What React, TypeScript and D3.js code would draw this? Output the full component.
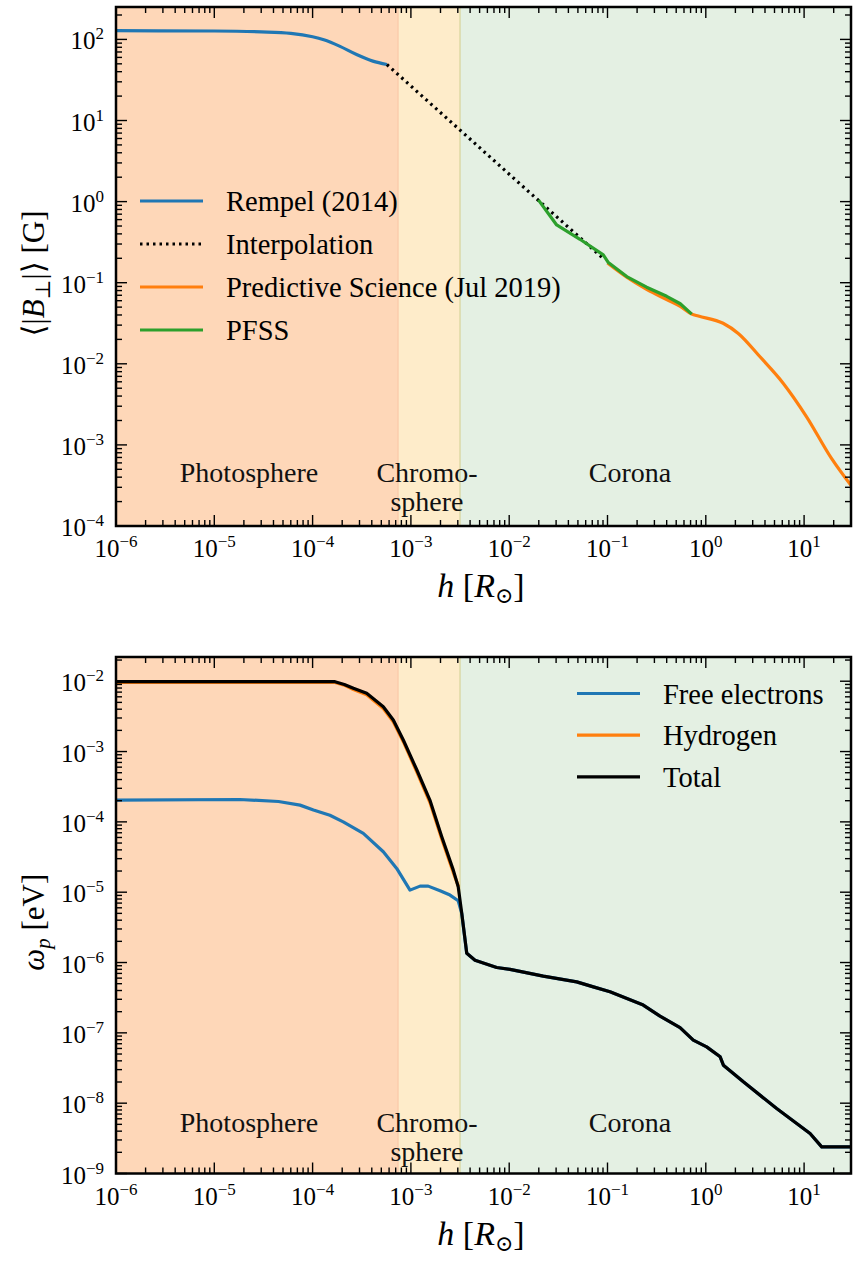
import React from 'react';
import * as d3 from 'd3';

// region boundaries in solar radii
const regionEdges = [1e-6, 7.4e-4, 3.16e-3, 30];
const regionFills = ['#fed7b8', '#feecca', '#e4f0e3'];

// top panel: <|B_perp|> [G]
const rempelH = [1e-6, 1e-5, 3e-5, 6e-5, 1e-4, 1.3e-4, 1.9e-4, 2.8e-4, 4.1e-4, 5.7e-4];
const rempelB = [128, 127, 124, 119, 108, 99, 82, 65, 54, 49];
const interpH = [5.7e-4, 0.09];
const interpB = [49, 0.2];
const psiH = [0.1, 0.157, 0.25, 0.4, 0.55, 0.72, 0.84, 1.5, 2.14, 3.56, 6.15, 10.6, 19, 31];
const psiB = [0.175, 0.117, 0.083, 0.062, 0.051, 0.041, 0.0388, 0.0316, 0.0237, 0.0122, 0.00573, 0.00222, 0.00068, 0.0003];
const pfssH = [0.0198, 0.0304, 0.0525, 0.0906, 0.102, 0.157, 0.25, 0.4, 0.55, 0.72];
const pfssB = [1.05, 0.515, 0.343, 0.22, 0.177, 0.119, 0.088, 0.068, 0.055, 0.041];

// bottom panel: omega_p [eV]
const elecH = [1e-6, 1.82e-5, 4.5e-5, 7.45e-5, 1.02e-4, 1.5e-4, 2.05e-4, 3.28e-4, 5.24e-4, 7.17e-4, 9.79e-4, 1.24e-3, 1.5e-3, 1.98e-3, 2.5e-3, 3.03e-3, 3.29e-3, 3.7e-3, 4.49e-3, 7.46e-3, 0.0102, 0.0222, 0.0486, 0.0718, 0.106, 0.231, 0.342, 0.547, 0.746, 1.02, 1.4, 1.51, 2.41, 5.26, 11.5, 15.1, 30];
const elecW = [2.04e-4, 2.08e-4, 1.95e-4, 1.73e-4, 1.48e-4, 1.24e-4, 1.0e-4, 6.85e-5, 3.76e-5, 2.18e-5, 1.07e-5, 1.22e-5, 1.22e-5, 1.05e-5, 9.1e-6, 7.55e-6, 5.0e-6, 1.35e-6, 1.08e-6, 8.5e-7, 7.98e-7, 6.41e-7, 5.31e-7, 4.51e-7, 3.83e-7, 2.48e-7, 1.73e-7, 1.19e-7, 7.87e-8, 6.32e-8, 4.56e-8, 3.47e-8, 2.01e-8, 8.41e-9, 3.71e-9, 2.39e-9, 2.39e-9];
const hydH = [1e-6, 1.69e-4, 2.1e-4, 2.6e-4, 3.55e-4, 5.24e-4, 6.62e-4, 8.37e-4, 1.15e-3, 1.56e-3, 2.06e-3, 2.7e-3, 3.05e-3];
const hydW = [9.6e-3, 9.6e-3, 8.8e-3, 7.6e-3, 6.4e-3, 4.1e-3, 2.65e-3, 1.38e-3, 5.1e-4, 1.9e-4, 5.7e-5, 1.9e-5, 1.2e-5];
const totH = [1e-6, 1.69e-4, 2.1e-4, 2.6e-4, 3.55e-4, 5.24e-4, 6.62e-4, 8.37e-4, 1.15e-3, 1.56e-3, 2.06e-3, 2.7e-3, 3.03e-3, 3.29e-3, 3.7e-3, 4.49e-3, 7.46e-3, 0.0102, 0.0222, 0.0486, 0.0718, 0.106, 0.231, 0.342, 0.547, 0.746, 1.02, 1.4, 1.51, 2.41, 5.26, 11.5, 15.1, 30];
const totW = [9.84e-3, 9.84e-3, 9.0e-3, 7.92e-3, 6.73e-3, 4.34e-3, 2.81e-3, 1.46e-3, 5.46e-4, 2.04e-4, 6.14e-5, 2.06e-5, 1.19e-5, 5.04e-6, 1.35e-6, 1.08e-6, 8.5e-7, 7.98e-7, 6.41e-7, 5.31e-7, 4.51e-7, 3.83e-7, 2.48e-7, 1.73e-7, 1.19e-7, 7.87e-8, 6.32e-8, 4.56e-8, 3.47e-8, 2.01e-8, 8.41e-9, 3.71e-9, 2.39e-9, 2.39e-9];

const FONT = '"Liberation Serif", "DejaVu Serif", serif';
const W = 860;
const H = 1263;
const LEFT = 116;
const RIGHT = 851;

type Series = { label: string; xs: number[]; ys: number[]; color: string; dash?: string; smooth?: boolean };

const zip = (xs: number[], ys: number[]) => xs.map((x, i) => [x, ys[i]] as [number, number]);

function logTicks(lo: number, hi: number) {
  const major: number[] = [];
  const minor: number[] = [];
  for (let e = Math.floor(Math.log10(lo)); e <= Math.ceil(Math.log10(hi)); e++) {
    for (let m = 1; m <= 9; m++) {
      const v = m * Math.pow(10, e);
      if (v < lo * 0.9999 || v > hi * 1.0001) continue;
      (m === 1 ? major : minor).push(v);
    }
  }
  return { major, minor };
}

const Pow = ({ x, y, e, anchor }: { x: number; y: number; e: number; anchor: string }) => (
  <text x={x} y={y} fontSize={25} textAnchor={anchor} fontFamily={FONT}>
    10<tspan dy={-10} fontSize={17}>{e < 0 ? '\u2212' + -e : String(e)}</tspan>
  </text>
);

interface PanelProps {
  top: number;
  bottom: number;
  yDomain: [number, number];
  series: Series[];
  legend: { x: number; y: number; gap: number };
  ylabel: React.ReactNode;
  id: string;
}

const Panel: React.FC<PanelProps> = ({ top, bottom, yDomain, series, legend, ylabel, id }) => {
  const x = d3.scaleLog().domain([1e-6, 30]).range([LEFT, RIGHT]);
  const y = d3.scaleLog().domain(yDomain).range([bottom, top]);
  const line = d3.line<[number, number]>().x(d => x(d[0])).y(d => y(d[1]));
  const smoothLine = d3.line<[number, number]>().x(d => x(d[0])).y(d => y(d[1])).curve(d3.curveMonotoneX);
  const xt = logTicks(1e-6, 30);
  const yt = logTicks(yDomain[0], yDomain[1]);
  const MAJ = 11;
  const MIN = 6;
  const regionLabelY = top + 475;
  return (
    <g>
      <defs>
        <clipPath id={id}>
          <rect x={LEFT} y={top} width={RIGHT - LEFT} height={bottom - top} />
        </clipPath>
      </defs>
      {regionFills.map((c, i) => (
        <rect key={i} x={x(regionEdges[i])} y={top} width={x(regionEdges[i + 1]) - x(regionEdges[i])} height={bottom - top} fill={c} />
      ))}
      <line x1={x(regionEdges[1])} x2={x(regionEdges[1])} y1={top} y2={bottom} stroke="#f9c9a9" strokeWidth={1.2} />
      <line x1={x(regionEdges[2])} x2={x(regionEdges[2])} y1={top} y2={bottom} stroke="#d6d49a" strokeWidth={1.2} />
      <g fontFamily={FONT} fontSize={28} textAnchor="middle" fill="#111">
        <text x={249} y={regionLabelY}>Photosphere</text>
        <text x={427} y={regionLabelY}>Chromo-</text>
        <text x={427} y={regionLabelY + 29}>sphere</text>
        <text x={630} y={regionLabelY}>Corona</text>
      </g>
      <g clipPath={`url(#${id})`}>
        {series.map(s => (
          <path key={s.label} d={(s.smooth ? smoothLine : line)(zip(s.xs, s.ys)) || ''} fill="none" stroke={s.color}
            strokeWidth={3.2} strokeDasharray={s.dash} strokeLinejoin="round" />
        ))}
      </g>
      {/* ticks */}
      <g stroke="#000" strokeWidth={1.4}>
        {xt.major.map(v => (
          <g key={'xM' + v}>
            <line x1={x(v)} x2={x(v)} y1={bottom} y2={bottom - MAJ} />
            <line x1={x(v)} x2={x(v)} y1={top} y2={top + MAJ} />
          </g>
        ))}
        {xt.minor.map(v => (
          <g key={'xm' + v}>
            <line x1={x(v)} x2={x(v)} y1={bottom} y2={bottom - MIN} />
            <line x1={x(v)} x2={x(v)} y1={top} y2={top + MIN} />
          </g>
        ))}
        {yt.major.map(v => (
          <g key={'yM' + v}>
            <line x1={LEFT} x2={LEFT + MAJ} y1={y(v)} y2={y(v)} />
            <line x1={RIGHT} x2={RIGHT - MAJ} y1={y(v)} y2={y(v)} />
          </g>
        ))}
        {yt.minor.map(v => (
          <g key={'ym' + v}>
            <line x1={LEFT} x2={LEFT + MIN} y1={y(v)} y2={y(v)} />
            <line x1={RIGHT} x2={RIGHT - MIN} y1={y(v)} y2={y(v)} />
          </g>
        ))}
      </g>
      <rect x={LEFT} y={top} width={RIGHT - LEFT} height={bottom - top} fill="none" stroke="#000" strokeWidth={2.5} />
      {xt.major.map(v => (
        <Pow key={'xl' + v} x={x(v)} y={bottom + 31} e={Math.round(Math.log10(v))} anchor="middle" />
      ))}
      {yt.major.map(v => (
        <Pow key={'yl' + v} x={104} y={y(v) + 10} e={Math.round(Math.log10(v))} anchor="end" />
      ))}
      {/* legend */}
      <g fontFamily={FONT} fontSize={28.5}>
        {series.map((s, i) => (
          <g key={'lg' + s.label}>
            <line x1={legend.x} x2={legend.x + 63} y1={legend.y + i * legend.gap} y2={legend.y + i * legend.gap}
              stroke={s.color} strokeWidth={3.2} strokeDasharray={s.dash} />
            <text x={legend.x + 86} y={legend.y + i * legend.gap + 10}>{s.label}</text>
          </g>
        ))}
      </g>
      <text x={481} y={bottom + 71} fontFamily={FONT} fontSize={34} textAnchor="middle">
        <tspan fontStyle="italic">h</tspan> [<tspan fontStyle="italic">R</tspan>
        <tspan dy={6} fontSize={22}>{'\u2299'}</tspan><tspan dy={-6}>]</tspan>
      </text>
      <g transform={`translate(44, ${(top + bottom) / 2 + 7}) rotate(-90)`}>
        <text x={0} y={0} fontFamily={FONT} fontSize={31} textAnchor="middle">{ylabel}</text>
      </g>
    </g>
  );
};

const topSeries: Series[] = [
  { label: 'Rempel (2014)', xs: rempelH, ys: rempelB, color: '#1f77b4', smooth: true },
  { label: 'Interpolation', xs: interpH, ys: interpB, color: '#000', dash: '2.5 4' },
  { label: 'Predictive Science (Jul 2019)', xs: psiH, ys: psiB, color: '#ff7f0e', smooth: true },
  { label: 'PFSS', xs: pfssH, ys: pfssB, color: '#2ca02c' },
];

const bottomSeries: Series[] = [
  { label: 'Free electrons', xs: elecH, ys: elecW, color: '#1f77b4' },
  { label: 'Hydrogen', xs: hydH, ys: hydW, color: '#ff7f0e' },
  { label: 'Total', xs: totH, ys: totW, color: '#000' },
];

export default function App() {
  return (
    <svg width={W} height={H} style={{ position: 'absolute', left: 0, top: 0, background: '#fff' }}>
      <rect width={W} height={H} fill="#fff" />
      <Panel
        id="clipTop"
        top={7}
        bottom={526}
        yDomain={[1e-4, 251]}
        series={topSeries}
        legend={{ x: 140, y: 201, gap: 43 }}
        ylabel={
          <>
            {'\u27E8|'}<tspan fontStyle="italic">B</tspan>
            <tspan dy={6} fontSize={21}>{'\u22A5'}</tspan>
            <tspan dy={-6}>{'|\u27E9 [G]'}</tspan>
          </>
        }
      />
      <Panel
        id="clipBot"
        top={657}
        bottom={1173.5}
        yDomain={[1e-9, 0.0221]}
        series={bottomSeries}
        legend={{ x: 577, y: 693.5, gap: 41.7 }}
        ylabel={
          <>
            <tspan fontStyle="italic">{'\u03C9'}</tspan>
            <tspan dy={6} fontSize={21} fontStyle="italic">p</tspan>
            <tspan dy={-6}> [eV]</tspan>
          </>
        }
      />
    </svg>
  );
}
